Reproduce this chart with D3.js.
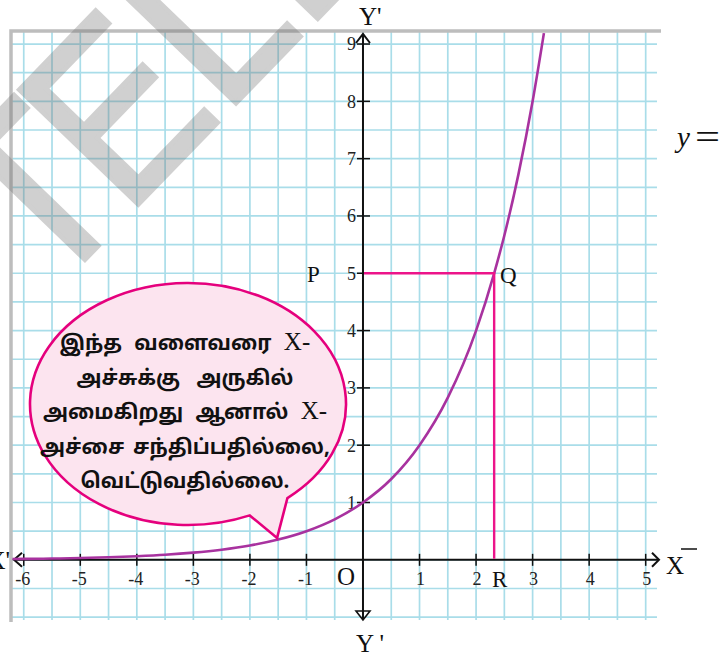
<!DOCTYPE html>
<html lang="ta">
<head>
<meta charset="UTF-8">
<title>y = 2^x</title>
<script src="https://d3js.org/d3.v7.min.js"></script>
<style>
  body { margin: 0; background: #fff; }
  svg { display: block; }
  .serif { font-family: "Liberation Serif", "Times New Roman", serif; }
  .tamil { font-family: "Noto Sans Tamil", "Lohit Tamil", "Latha", sans-serif; font-weight: bold; }
</style>
</head>
<body>
<script>
// values
var xTicks = [-6, -5, -4, -3, -2, -1, 1, 2, 3, 4, 5];
var yTicks = [1, 2, 3, 4, 5, 6, 7, 8, 9];
var curveX = [-6.2, -6, -5.5, -5, -4.5, -4, -3.5, -3, -2.5, -2, -1.5, -1, -0.5, 0, 0.5, 1, 1.5, 2, 2.32, 2.5, 2.75, 3, 3.2];
var curveY = [0.014, 0.016, 0.022, 0.031, 0.044, 0.063, 0.088, 0.125, 0.177, 0.25, 0.354, 0.5, 0.707, 1, 1.41, 2, 2.83, 4, 5, 5.66, 6.73, 8, 9.19];
var pointQ = [2.32, 5];
var bubbleTip = [-1.52, 0.38];
var bubbleLines = [
    ["இந்த வளைவரை ", "X-"],
    ["அச்சுக்கு அருகில்", ""],
    ["அமைகிறது ஆனால் ", "X-"],
    ["அச்சை சந்திப்பதில்லை,", ""],
    ["வெட்டுவதில்லை.", ""]
];
var bubbleSpacing = [7, 11, 7, 3, 0];

var W = 725, H = 655;
var svg = d3.select("body").append("svg").attr("width", W).attr("height", H);

var x = d3.scaleLinear().domain([-6.19, 5.2]).range([13, 657]);
var y = d3.scaleLinear().domain([-1.05, 9.21]).range([620, 32]);

// grid paper
var grid = svg.append("g");
grid.selectAll(".gv").data(d3.range(-6, 5.01, 0.5)).enter().append("line")
    .attr("x1", d => x(d)).attr("x2", d => x(d))
    .attr("y1", 32).attr("y2", 620)
    .attr("stroke", "#a9dde9").attr("stroke-width", 1.7);
grid.selectAll(".gh").data(d3.range(-1, 9.01, 0.5)).enter().append("line")
    .attr("x1", 12).attr("x2", 657)
    .attr("y1", d => y(d)).attr("y2", d => y(d))
    .attr("stroke", "#a9dde9").attr("stroke-width", 1.7);
// grey frame top/left
svg.append("path").attr("d", "M11,622 L11,31 L661,31")
    .attr("fill", "none").attr("stroke", "#bdbdbd").attr("stroke-width", 3.5);

// axes
var ax = svg.append("g").attr("stroke", "#111").attr("fill", "none").attr("stroke-width", 2);
ax.append("line").attr("x1", 14).attr("x2", 658).attr("y1", y(0)).attr("y2", y(0));
ax.append("line").attr("x1", x(0)).attr("x2", x(0)).attr("y1", 34).attr("y2", 619);
ax.append("path").attr("d", `M${x(0) - 7},${43} L${x(0)},${34} L${x(0) + 7},${43}`);
ax.append("path").attr("d", `M${x(0) - 7},${611} L${x(0) + 7},${611} L${x(0)},${620} Z`).attr("stroke-width", 1.6);
ax.append("path").attr("d", `M${22},${y(0) - 7} L${14},${y(0)} L${22},${y(0) + 7}`);
ax.append("path").attr("d", `M${652},${y(0) - 7} L${659},${y(0)} L${652},${y(0) + 7}`);

ax.selectAll(".tx").data(xTicks).enter().append("line")
    .attr("x1", d => x(d)).attr("x2", d => x(d))
    .attr("y1", y(0) - 6).attr("y2", y(0) + 6).attr("stroke-width", 1.5);
ax.selectAll(".ty").data(yTicks).enter().append("line")
    .attr("x1", x(0) - 6).attr("x2", x(0) + 7)
    .attr("y1", d => y(d)).attr("y2", d => y(d)).attr("stroke-width", 1.5);

svg.selectAll(".lx").data(xTicks).enter().append("text")
    .attr("class", "serif")
    .attr("x", d => x(d) + (d < 0 ? -1 : 1)).attr("y", y(0) + 25)
    .attr("text-anchor", "middle").attr("font-size", 18).attr("fill", "#222")
    .text(d => d);
svg.selectAll(".ly").data(yTicks).enter().append("text")
    .attr("class", "serif")
    .attr("x", x(0) - 7).attr("y", d => y(d)).attr("dy", "0.35em")
    .attr("text-anchor", "end").attr("font-size", 18).attr("fill", "#222")
    .text(d => d);

// the curve y = 2^x
var line = d3.line().x(d => x(d[0])).y(d => y(d[1])).curve(d3.curveMonotoneX);
svg.append("path")
    .datum(curveX.map((v, i) => [v, curveY[i]]))
    .attr("d", line)
    .attr("fill", "none").attr("stroke", "#a8329f").attr("stroke-width", 2.6);

// P-Q-R guide lines
svg.append("path")
    .attr("d", `M${x(0) + 1},${y(pointQ[1])} L${x(pointQ[0])},${y(pointQ[1])} L${x(pointQ[0])},${y(0) - 1}`)
    .attr("fill", "none").attr("stroke", "#ec148a").attr("stroke-width", 2.4);

// labels
var lab = svg.append("g").attr("class", "serif").attr("fill", "#111");
lab.append("text").attr("x", 307).attr("y", 282).attr("font-size", 23).text("P");
lab.append("text").attr("x", 500).attr("y", 283).attr("font-size", 23).text("Q");
lab.append("text").attr("x", 492).attr("y", 587).attr("font-size", 23).text("R");
lab.append("text").attr("x", 337).attr("y", 585).attr("font-size", 25).text("O");
lab.append("text").attr("x", 359).attr("y", 25).attr("font-size", 25).text("Y'");
lab.append("text").attr("x", 356).attr("y", 652).attr("font-size", 25).text("Y '");
lab.append("text").attr("x", 10).attr("y", 569).attr("text-anchor", "end").attr("font-size", 25).text("X'");
lab.append("text").attr("x", 666).attr("y", 574).attr("font-size", 25).text("X");
lab.append("line").attr("x1", 681).attr("x2", 697).attr("y1", 549).attr("y2", 549)
    .attr("stroke", "#111").attr("stroke-width", 1.5);
lab.append("text").attr("x", 677).attr("y", 147).attr("font-size", 29).attr("font-style", "italic").text("y");
lab.append("text").attr("x", 695).attr("y", 149).attr("font-size", 36)
    .attr("textLength", 25).attr("lengthAdjust", "spacingAndGlyphs").text("=");

// speech bubble
var cx = 188, cy = 404, rx = 158, ry = 121;
var a1 = 51 * Math.PI / 180, a2 = 67 * Math.PI / 180;
var bx1 = cx + rx * Math.cos(a1), by1 = cy + ry * Math.sin(a1);
var bx2 = cx + rx * Math.cos(a2), by2 = cy + ry * Math.sin(a2);
svg.append("path")
    .attr("d", `M${bx1},${by1} A${rx},${ry} 0 1 0 ${bx2},${by2} L${x(bubbleTip[0])},${y(bubbleTip[1])} Z`)
    .attr("fill", "#fce4ef").attr("stroke", "#e5007d").attr("stroke-width", 2.6)
    .attr("stroke-linejoin", "miter");

var bt = svg.append("g");
bubbleLines.forEach(function(l, i) {
    var t = bt.append("text")
        .attr("x", 185).attr("y", 350 + i * 34.5)
        .attr("text-anchor", "middle").attr("fill", "#111")
        .attr("word-spacing", bubbleSpacing[i]);
    t.append("tspan").attr("class", "tamil").attr("font-size", 20.5).text(l[0]);
    if (l[1]) t.append("tspan").attr("class", "serif").attr("font-size", 25).text(l[1]);
});

// watermark
var wm = svg.append("g").attr("opacity", 0.32)
    .attr("transform", "translate(126,217) rotate(-46) scale(0.88,1)")
    .attr("fill", "#6f6f6f").attr("stroke", "#6f6f6f").attr("stroke-width", 5)
    .attr("stroke-linejoin", "miter")
    .attr("font-family", "Liberation Sans, Arial, sans-serif").attr("font-size", 240);
wm.append("text").attr("text-anchor", "start").text("ELEGRAM");
wm.append("text").attr("x", 17).attr("text-anchor", "end").text("T");
</script>
</body>
</html>
